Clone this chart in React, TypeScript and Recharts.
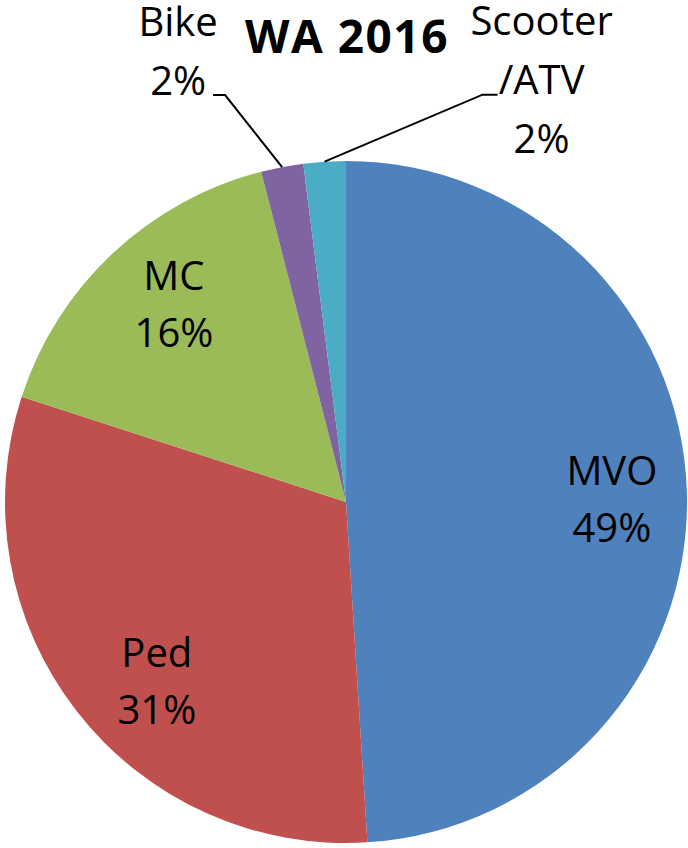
import { Pie, PieChart, Cell } from "recharts"

const categories = ["MVO", "Ped", "MC", "Bike", "Scooter/ATV"]
const shares = [49, 31, 16, 2, 2]
const labelLines: string[][] = [["MVO"], ["Ped"], ["MC"], ["Bike"], ["Scooter", "/ATV"]]
const colors = ["#4F81BD", "#C0504D", "#9BBB59", "#8064A2", "#4BACC6"]
const title = "WA 2016"

const data = categories.map((name, i) => ({ name, value: shares[i], lines: labelLines[i] }))

const FONT = "'Open Sans', sans-serif"
const RAD = Math.PI / 180
const LINE_H = 57

// small nudges so the inside labels sit where Excel's best fit put them
const insideNudge: Record<string, [number, number]> = {
  MVO: [0, -9],
  Ped: [21, 2],
  MC: [10, -18],
}

function renderLabel(props: any) {
  const { cx, cy, midAngle, outerRadius, index, payload } = props
  const lines: string[] = payload.lines ?? data[index].lines
  const pct = `${data[index].value}%`
  const all = [...lines, pct]

  if (index < 3) {
    const r = outerRadius * 0.78
    const [nx, ny] = insideNudge[data[index].name]
    const x = cx + r * Math.cos(-midAngle * RAD) + nx
    const y = cy + r * Math.sin(-midAngle * RAD) + ny
    return (
      <text x={x} y={y} textAnchor="middle" fontFamily={FONT} fontSize={40} fill="#000">
        {all.map((t, i) => (
          <tspan key={i} x={x} y={y + i * LINE_H}>{t}</tspan>
        ))}
      </text>
    )
  }

  // outside labels with leader lines from the slice edge
  const ex = cx + outerRadius * Math.cos(-midAngle * RAD)
  const ey = cy + outerRadius * Math.sin(-midAngle * RAD)
  const left = index === 3
  const elbowX = left ? ex - 57 : ex + 158
  const elbowY = left ? ey - 72 : ey - 67
  const tailX = left ? elbowX - 12 : elbowX + 15
  const textX = left ? elbowX - 47 : elbowX + 59
  const firstY = left ? elbowY - 59 : elbowY - 60
  return (
    <g>
      <polyline
        points={`${ex},${ey} ${elbowX},${elbowY} ${tailX},${elbowY}`}
        fill="none"
        stroke="#000"
        strokeWidth={2}
      />
      <text x={textX} y={firstY} textAnchor="middle" fontFamily={FONT} fontSize={40} fill="#000">
        {all.map((t, i) => (
          <tspan key={i} x={textX} y={firstY + i * (left ? 59 : 59)}>{t}</tspan>
        ))}
      </text>
    </g>
  )
}

export default function App() {
  return (
    <div style={{ position: "absolute", left: 0, top: 0, width: 688, height: 848, background: "#fff" }}>
      <PieChart width={688} height={848} margin={{ top: 0, right: 0, bottom: 0, left: 0 }}>
        <text
          x={347}
          y={53}
          textAnchor="middle"
          fontFamily={FONT}
          fontWeight="bold"
          fontSize={46}
          letterSpacing={1.5}
          fill="#000"
        >
          {title}
        </text>
        <Pie
          data={data}
          dataKey="value"
          nameKey="name"
          cx={346}
          cy={502}
          outerRadius={341}
          startAngle={90}
          endAngle={-270}
          stroke="none"
          label={renderLabel}
          labelLine={false}
          isAnimationActive={false}
        >
          {data.map((d, i) => (
            <Cell key={d.name} fill={colors[i]} />
          ))}
        </Pie>
      </PieChart>
    </div>
  )
}
